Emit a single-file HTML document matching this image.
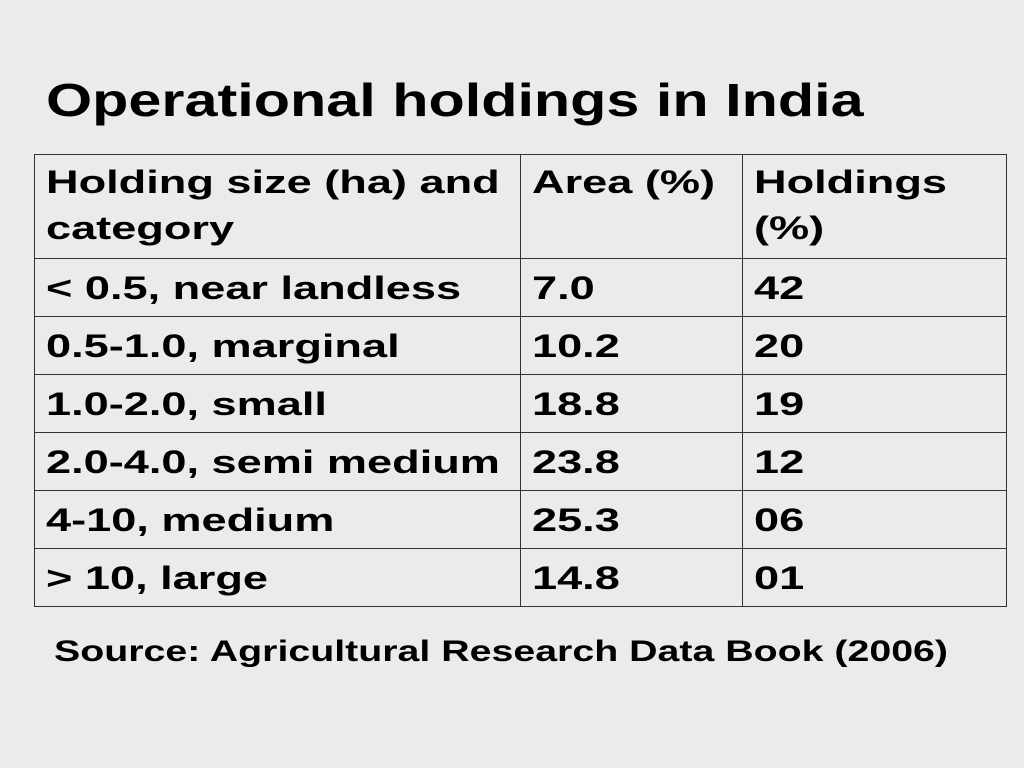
<!DOCTYPE html>
<html><head><meta charset="utf-8"><style>
html,body{margin:0;padding:0;width:1024px;height:768px;background:#ebebeb;overflow:hidden}
body{position:relative;font-family:"Liberation Sans",Arial,sans-serif;font-weight:bold;color:#000}
#title{position:absolute;left:46px;top:74px;font-size:46px;line-height:52px;margin:0;white-space:nowrap;transform:scaleX(1.29);transform-origin:left top}
table{position:absolute;left:34px;top:154px;border-collapse:collapse;table-layout:fixed}
td{border:1.5px solid #333;font-size:32px;line-height:46px;padding:6px 0 0 11px;vertical-align:top;white-space:nowrap;overflow:hidden}
td span{display:inline-block;transform:scaleX(1.41);transform-origin:left top}
#src{position:absolute;left:54px;top:634px;font-size:30px;line-height:36px;white-space:nowrap;transform:scaleX(1.31);transform-origin:left top}
</style></head><body>
<h1 id="title">Operational holdings in India</h1>
<table>
<colgroup><col style="width:486px"><col style="width:222px"><col style="width:264px"></colgroup>
<tr style="height:104px"><td style="padding-top:4px"><span>Holding size (ha) and<br>category</span></td><td style="padding-top:4px"><span>Area (%)</span></td><td style="padding-top:4px"><span>Holdings<br>(%)</span></td></tr>
<tr style="height:58px"><td><span>&lt; 0.5, near landless</span></td><td><span>7.0</span></td><td><span>42</span></td></tr>
<tr style="height:58px"><td><span>0.5-1.0, marginal</span></td><td><span>10.2</span></td><td><span>20</span></td></tr>
<tr style="height:58px"><td><span>1.0-2.0, small</span></td><td><span>18.8</span></td><td><span>19</span></td></tr>
<tr style="height:58px"><td><span>2.0-4.0, semi medium</span></td><td><span>23.8</span></td><td><span>12</span></td></tr>
<tr style="height:58px"><td><span>4-10, medium</span></td><td><span>25.3</span></td><td><span>06</span></td></tr>
<tr style="height:58px"><td><span>&gt; 10, large</span></td><td><span>14.8</span></td><td><span>01</span></td></tr>
</table>
<div id="src">Source: Agricultural Research Data Book (2006)</div>
</body></html>
